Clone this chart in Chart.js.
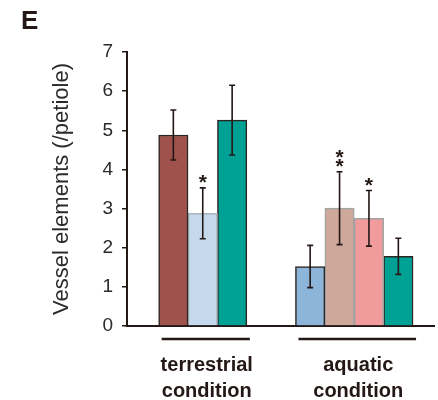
<!DOCTYPE html>
<html>
<head>
<meta charset="utf-8">
<script src="https://cdn.jsdelivr.net/npm/chart.js@4/dist/chart.umd.min.js"></script>
<style>
  html, body { margin: 0; padding: 0; background: #fff; }
  #wrap { width: 438px; height: 400px; position: relative; }
</style>
</head>
<body>
<div id="wrap"><canvas id="vesselChart" width="438" height="400"></canvas></div>
<script>
// groups on the x axis
var groups = [['terrestrial', 'condition'], ['aquatic', 'condition']];
// which group each bar belongs to
var groupOf = [0, 0, 0, 1, 1, 1, 1];
// mean vessel elements per petiole
var means = [4.88, 2.88, 5.26, 1.52, 3.01, 2.75, 1.78];
// error bar half lengths
var errors = [0.64, 0.65, 0.89, 0.54, 0.93, 0.71, 0.46];
// significance marks
var marks = ['', '*', '', '', '**', '*', ''];
// y axis range
var yMin = 0, yMax = 7, yStep = 1;

var fills = ['#9e524b', '#c6d9ec', '#00a195', '#8cb5d9', '#cea89b', '#f19b9d', '#00a195'];
var edges = ['#2b2420', '#a9b2bd', '#2b2420', '#2b2420', '#a3a3a3', '#a3a3a3', '#2b2420'];
var ink = '#231815';
var fontFamily = "'Liberation Sans', Arial, sans-serif";

var datasets = means.map(function(m, i) {
    return {
        label: 'bar ' + (i + 1),
        data: groups.map(function(g, gi) { return gi === groupOf[i] ? m : null; }),
        backgroundColor: fills[i],
        borderColor: edges[i],
        borderWidth: 1.5,
        stack: 's' + i
    };
});

// error bars, asterisks, group underlines, panel letter
var extras = {
    id: 'extras',
    afterDatasetsDraw: function(chart) {
        var ctx = chart.ctx;
        var y = chart.scales.y;
        ctx.save();
        ctx.strokeStyle = ink;
        ctx.fillStyle = ink;
        ctx.lineWidth = 1.6;
        means.forEach(function(m, i) {
            var bar = chart.getDatasetMeta(i).data[groupOf[i]];
            var top = y.getPixelForValue(m + errors[i]);
            var bot = y.getPixelForValue(m - errors[i]);
            ctx.beginPath();
            ctx.moveTo(bar.x, top); ctx.lineTo(bar.x, bot);
            ctx.moveTo(bar.x - 3, top); ctx.lineTo(bar.x + 3, top);
            ctx.moveTo(bar.x - 3, bot); ctx.lineTo(bar.x + 3, bot);
            ctx.stroke();
            if (marks[i]) {
                ctx.font = 'bold 21px ' + fontFamily;
                ctx.textAlign = 'center';
                ctx.textBaseline = 'alphabetic';
                var n = marks[i].length;
                for (var k = 0; k < n; k++) {
                    var cy = top - 11 - (n - 1 - k) * 9;
                    ctx.fillText('*', bar.x, cy + 12);
                }
            }
        });
        ctx.restore();
    },
    afterDraw: function(chart) {
        var ctx = chart.ctx;
        var area = chart.chartArea;
        ctx.save();
        ctx.strokeStyle = ink;
        // extend the x axis a little past the last category
        ctx.lineWidth = 2;
        ctx.beginPath();
        ctx.moveTo(area.right - 1, area.bottom);
        ctx.lineTo(area.right + 5, area.bottom);
        ctx.stroke();
        // group underlines
        ctx.lineWidth = 2.6;
        groups.forEach(function(g, gi) {
            var lo = Infinity, hi = -Infinity;
            groupOf.forEach(function(gg, i) {
                if (gg !== gi) return;
                var bar = chart.getDatasetMeta(i).data[gi];
                lo = Math.min(lo, bar.x - bar.width / 2);
                hi = Math.max(hi, bar.x + bar.width / 2);
            });
            ctx.beginPath();
            ctx.moveTo(lo + 3, area.bottom + 13);
            ctx.lineTo(hi + 3, area.bottom + 13);
            ctx.stroke();
        });
        // panel letter
        ctx.fillStyle = ink;
        ctx.font = 'bold 26px ' + fontFamily;
        ctx.textAlign = 'left';
        ctx.textBaseline = 'alphabetic';
        ctx.fillText('E', 21, 29);
        ctx.restore();
    }
};

new Chart(document.getElementById('vesselChart'), {
    type: 'bar',
    data: { labels: groups, datasets: datasets },
    options: {
        responsive: false,
        animation: false,
        skipNull: true,
        barThickness: 29.4,
        layout: { padding: { left: 0, top: 52, right: 8, bottom: 0 } },
        plugins: { legend: { display: false }, tooltip: { enabled: false } },
        scales: {
            x: {
                grid: { display: false, drawTicks: false },
                border: { display: true, color: ink, width: 2 },
                ticks: {
                    color: ink,
                    padding: 26,
                    labelOffset: 4,
                    font: { family: fontFamily, size: 20, weight: 'bold', lineHeight: 1.33 }
                },
                afterFit: function(scale) { scale.height = 74; }
            },
            y: {
                min: yMin,
                max: yMax,
                ticks: {
                    stepSize: yStep,
                    color: '#2a2a2a',
                    padding: 9,
                    font: { family: fontFamily, size: 19 }
                },
                grid: { drawOnChartArea: false, drawTicks: true, tickLength: 5, color: ink, lineWidth: 1.5 },
                border: { display: true, color: ink, width: 2 },
                title: {
                    display: true,
                    text: 'Vessel elements (/petiole)',
                    color: '#2a2a2a',
                    font: { family: fontFamily, size: 22, lineHeight: 1.2 },
                    padding: { top: 49, bottom: 0 }
                },
                afterFit: function(scale) { scale.width = 127; }
            }
        }
    },
    plugins: [extras]
});
</script>
</body>
</html>
